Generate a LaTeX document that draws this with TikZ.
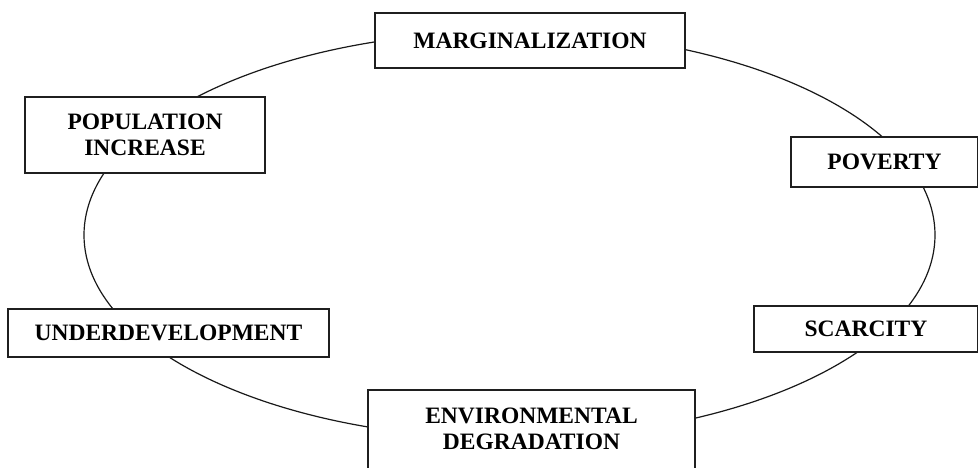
\documentclass[tikz,border=0pt]{standalone}
\usepackage{fontspec}
\setmainfont{Liberation Serif}
\begin{document}
\begin{tikzpicture}[x=1pt,y=-1pt,
  stage/.style={draw=black!88, line width=1.5pt, fill=white, inner sep=0pt,
    align=center, font=\fontsize{23.5}{26}\selectfont\bfseries},
  loop/.style={draw=black!90, line width=1.2pt}]
  % page frame
  \clip (0,0) rectangle (978,468);
  \fill[white] (0,0) rectangle (978,468);

  % the cycle that links the stages
  \draw[loop] (509.5,235) ellipse [x radius=425.5, y radius=203.5];

  % stages around the cycle
  \node[stage, minimum width=310pt, minimum height=55pt] (marg) at (530,40.5) {MARGINALIZATION};
  \node[stage, minimum width=240pt, minimum height=76pt] (pop) at (145,135) {POPULATION\\INCREASE};
  \node[stage, minimum width=187pt, minimum height=50pt] (pov) at (884.5,162) {POVERTY};
  \node[stage, minimum width=321pt, minimum height=48pt] (under) at (168.5,333) {UNDERDEVELOPMENT};
  \node[stage, minimum width=224pt, minimum height=46pt] (scar) at (866,329) {SCARCITY};
  \node[stage, minimum width=327pt, anchor=north] (env) at (531.5,389)
    {\rule{0pt}{34pt}ENVIRONMENTAL\\DEGRADATION\rule[-30pt]{0pt}{30pt}};
\end{tikzpicture}
\end{document}
